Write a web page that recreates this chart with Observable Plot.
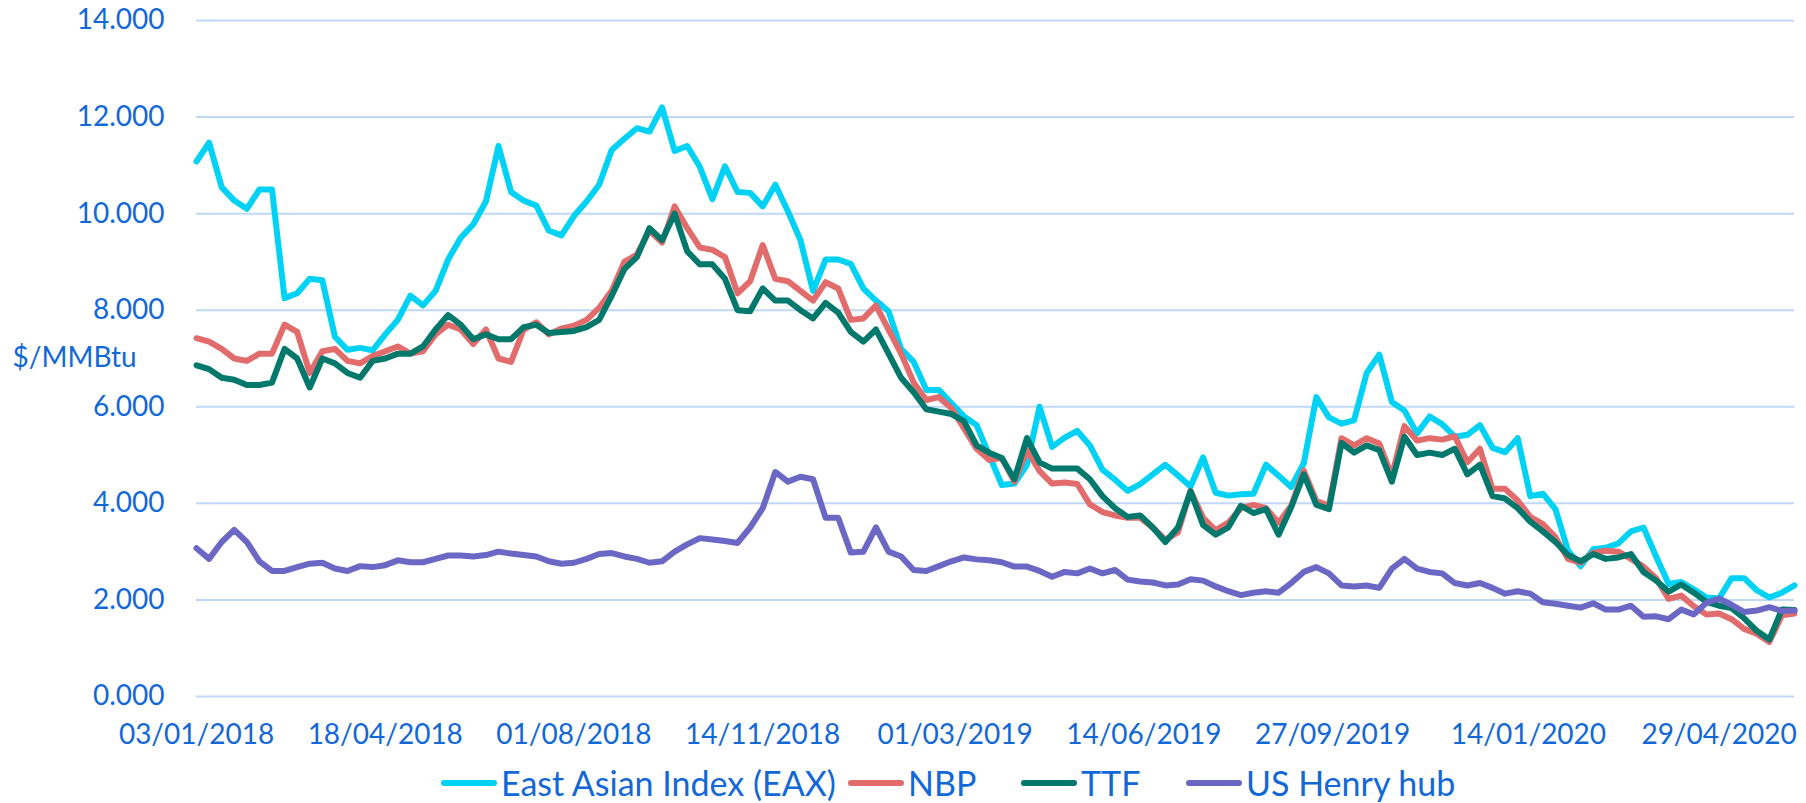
<!DOCTYPE html>
<html>
<head>
<meta charset="utf-8">
<script src="https://cdn.jsdelivr.net/npm/d3@7"></script>
<script src="https://cdn.jsdelivr.net/npm/@observablehq/plot@0.6"></script>
<style>
  html, body { margin: 0; padding: 0; background: #ffffff; }
  #wrap { width: 1806px; height: 803px; position: relative; font-family: Lato, "Open Sans", sans-serif; color: #1268d6; }
  #legend { position: absolute; left: 0; top: 762px; height: 41px; width: 1806px; }
  .item { position: absolute; top: 0; height: 41px; display: flex; align-items: center; font-size: 34px; white-space: nowrap; }
  .item svg { margin-right: 4px; }
</style>
</head>
<body>
<div id="wrap"><div id="chart"></div><div id="legend"></div></div>
<script>
// Weekly observation dates (Wednesdays)
const dates = [
"2018-01-03","2018-01-10","2018-01-17","2018-01-24","2018-01-31","2018-02-07","2018-02-14","2018-02-21","2018-02-28",
"2018-03-07","2018-03-14","2018-03-21","2018-03-28","2018-04-04","2018-04-11","2018-04-18","2018-04-25",
"2018-05-02","2018-05-09","2018-05-16","2018-05-23","2018-05-30","2018-06-06","2018-06-13","2018-06-20","2018-06-27",
"2018-07-04","2018-07-11","2018-07-18","2018-07-25","2018-08-01","2018-08-08","2018-08-15","2018-08-22","2018-08-29",
"2018-09-05","2018-09-12","2018-09-19","2018-09-26","2018-10-03","2018-10-10","2018-10-17","2018-10-24","2018-10-31",
"2018-11-07","2018-11-14","2018-11-21","2018-11-28","2018-12-05","2018-12-12","2018-12-19","2018-12-26",
"2019-01-02","2019-01-09","2019-01-16","2019-01-23","2019-01-30","2019-02-06","2019-02-13","2019-02-20","2019-02-27",
"2019-03-06","2019-03-13","2019-03-20","2019-03-27","2019-04-03","2019-04-10","2019-04-17","2019-04-24",
"2019-05-01","2019-05-08","2019-05-15","2019-05-22","2019-05-29","2019-06-05","2019-06-12","2019-06-19","2019-06-26",
"2019-07-03","2019-07-10","2019-07-17","2019-07-24","2019-07-31","2019-08-07","2019-08-14","2019-08-21","2019-08-28",
"2019-09-04","2019-09-11","2019-09-18","2019-09-25","2019-10-02","2019-10-09","2019-10-16","2019-10-23","2019-10-30",
"2019-11-06","2019-11-13","2019-11-20","2019-11-27","2019-12-04","2019-12-11","2019-12-18","2019-12-25",
"2020-01-01","2020-01-08","2020-01-15","2020-01-22","2020-01-29","2020-02-05","2020-02-12","2020-02-19","2020-02-26",
"2020-03-04","2020-03-11","2020-03-18","2020-03-25","2020-04-01","2020-04-08","2020-04-15","2020-04-22","2020-04-29",
"2020-05-06","2020-05-13","2020-05-20","2020-05-27","2020-06-03","2020-06-10"
];

// $/MMBtu
const eax = [
11.08,11.47,10.55,10.27,10.1,10.5,10.5,8.25,8.35,8.65,8.62,7.45,7.18,7.22,7.17,7.5,7.8,8.3,8.1,8.4,9.05,9.5,
9.78,10.25,11.4,10.45,10.27,10.17,9.65,9.55,9.95,10.25,10.6,11.32,11.55,11.77,11.7,12.2,11.3,11.4,10.97,10.3,10.98,
10.45,10.43,10.15,10.6,10.05,9.45,8.4,9.05,9.05,8.96,8.45,8.2,7.98,7.2,6.93,6.35,6.35,6.07,5.8,5.62,5.0,
4.38,4.41,4.8,6.0,5.17,5.36,5.5,5.2,4.7,4.49,4.26,4.4,4.6,4.8,4.58,4.35,4.95,4.22,4.16,4.19,4.2,
4.8,4.57,4.34,4.83,6.2,5.78,5.65,5.72,6.7,7.08,6.1,5.92,5.45,5.8,5.64,5.38,5.42,5.62,5.15,5.06,5.35,
4.15,4.2,3.88,3.02,2.7,3.05,3.08,3.17,3.42,3.5,2.9,2.33,2.37,2.22,2.05,2.03,2.45,2.45,2.2,2.05,2.15,2.3
];
const nbp = [
7.42,7.35,7.2,7.0,6.95,7.1,7.1,7.7,7.55,6.7,7.15,7.2,6.95,6.9,7.05,7.15,7.25,7.1,7.15,7.5,7.7,7.6,
7.3,7.6,7.0,6.93,7.6,7.75,7.5,7.62,7.68,7.8,8.05,8.4,9.0,9.15,9.65,9.4,10.15,9.7,9.3,9.25,9.1,
8.35,8.6,9.35,8.65,8.6,8.4,8.2,8.58,8.45,7.8,7.83,8.1,7.6,7.1,6.5,6.14,6.2,5.97,5.55,5.13,4.9,
4.94,4.45,5.1,4.67,4.41,4.43,4.4,3.98,3.82,3.75,3.7,3.7,3.5,3.25,3.4,4.26,3.7,3.44,3.6,3.9,3.97,
3.9,3.6,3.95,4.68,4.05,3.95,5.35,5.2,5.35,5.24,4.57,5.6,5.3,5.35,5.32,5.39,4.85,5.13,4.3,4.3,4.06,
3.72,3.57,3.3,2.85,2.77,2.98,3.02,3.0,2.85,2.69,2.45,2.02,2.09,1.87,1.7,1.72,1.6,1.4,1.3,1.13,1.68,1.72
];
const ttf = [
6.86,6.78,6.6,6.56,6.45,6.45,6.5,7.2,7.0,6.4,7.0,6.9,6.7,6.6,6.95,7.0,7.1,7.1,7.25,7.6,7.9,7.7,
7.4,7.5,7.4,7.4,7.65,7.7,7.53,7.55,7.57,7.65,7.8,8.3,8.85,9.1,9.7,9.45,10.0,9.22,8.95,8.95,8.65,
8.0,7.98,8.45,8.2,8.2,8.0,7.83,8.15,7.95,7.55,7.35,7.6,7.1,6.6,6.3,5.95,5.9,5.85,5.7,5.2,5.05,
4.94,4.5,5.35,4.85,4.72,4.72,4.72,4.5,4.15,3.9,3.72,3.75,3.5,3.2,3.5,4.25,3.55,3.35,3.5,3.95,3.8,
3.88,3.35,3.92,4.6,3.97,3.88,5.25,5.05,5.2,5.1,4.45,5.38,5.0,5.05,5.0,5.13,4.6,4.8,4.15,4.1,3.9,
3.62,3.42,3.2,2.93,2.8,2.95,2.85,2.88,2.95,2.58,2.4,2.17,2.32,2.15,1.96,1.88,1.83,1.62,1.36,1.18,1.8,1.79
];
const henryHub = [
3.07,2.85,3.2,3.45,3.2,2.8,2.6,2.6,2.68,2.75,2.77,2.65,2.6,2.7,2.68,2.72,2.82,2.78,2.78,2.85,2.92,2.92,
2.9,2.93,3.0,2.96,2.93,2.9,2.8,2.75,2.77,2.85,2.95,2.97,2.9,2.85,2.77,2.8,3.0,3.15,3.28,3.25,3.22,
3.18,3.5,3.9,4.65,4.45,4.55,4.5,3.7,3.7,2.98,3.0,3.5,3.0,2.9,2.62,2.6,2.7,2.8,2.88,2.84,2.82,
2.78,2.69,2.69,2.6,2.48,2.58,2.55,2.65,2.55,2.62,2.42,2.38,2.36,2.3,2.32,2.43,2.4,2.28,2.18,2.1,2.15,
2.18,2.15,2.35,2.58,2.68,2.55,2.3,2.28,2.3,2.25,2.65,2.85,2.65,2.58,2.55,2.35,2.3,2.35,2.25,2.13,2.18,
2.13,1.95,1.92,1.88,1.84,1.93,1.8,1.8,1.88,1.65,1.66,1.6,1.8,1.7,1.94,2.03,1.9,1.75,1.78,1.85,1.77,1.78
];

const seriesNames = ["East Asian Index (EAX)", "NBP", "TTF", "US Henry hub"];
const seriesColors = ["#00d2f6", "#e26c6c", "#00786c", "#6b67c4"];
const legendLeft = [441, 848, 1021, 1186];
const yTicks = [0, 2, 4, 6, 8, 10, 12, 14];
const xTickLabels = ["03/01/2018", "18/04/2018", "01/08/2018", "14/11/2018", "01/03/2019",
                     "14/06/2019", "27/09/2019", "14/01/2020", "29/04/2020"];
const yLabel = "$/MMBtu";

const parseDMY = d3.utcParse("%d/%m/%Y");
const fmtDMY = d3.utcFormat("%d/%m/%Y");
const xTicks = xTickLabels.map(parseDMY);

const allValues = [eax, nbp, ttf, henryHub];
const rows = [];
allValues.forEach((vals, si) => {
  vals.forEach((v, i) => rows.push({date: new Date(dates[i] + "T00:00:00Z"), value: v, series: seriesNames[si]}));
});

const textColor = "#1268d6";
const gridColor = "#bfd8f5";

const chart = Plot.plot({
  width: 1806,
  height: 762,
  marginLeft: 196,
  marginRight: 12,
  marginTop: 20,
  marginBottom: 66,
  style: {fontFamily: "Lato, 'Open Sans', sans-serif", fontSize: "28px", color: textColor, background: "#ffffff", overflow: "visible"},
  x: {type: "utc", domain: [new Date(dates[0] + "T00:00:00Z"), new Date(dates[dates.length - 1] + "T00:00:00Z")]},
  y: {domain: [0, 14]},
  color: {domain: seriesNames, range: seriesColors},
  marks: [
    Plot.gridY(yTicks, {stroke: gridColor, strokeOpacity: 1, strokeWidth: 2}),
    Plot.axisY(yTicks, {tickSize: 0, tickPadding: 32, tickFormat: d => d.toFixed(3), label: null}),
    Plot.axisX(xTicks, {tickSize: 0, tickPadding: 28, tickFormat: fmtDMY, label: null}),
    Plot.lineY(rows, {x: "date", y: "value", z: "series", stroke: "series", strokeWidth: 6,
                      strokeLinejoin: "round", strokeLinecap: "round"}),
    Plot.text([yLabel], {text: d => d, frameAnchor: "left", dx: -184, textAnchor: "start", fill: textColor})
  ]
});
document.getElementById("chart").appendChild(chart);

// Legend (line swatches)
const legend = document.getElementById("legend");
seriesNames.forEach((name, i) => {
  const item = document.createElement("div");
  item.className = "item";
  item.style.left = legendLeft[i] + "px";
  item.innerHTML = `<svg width="56" height="10"><line x1="3" y1="5" x2="53" y2="5" stroke="${seriesColors[i]}" stroke-width="6" stroke-linecap="round"/></svg><span>${name}</span>`;
  legend.appendChild(item);
});
</script>
</body>
</html>
